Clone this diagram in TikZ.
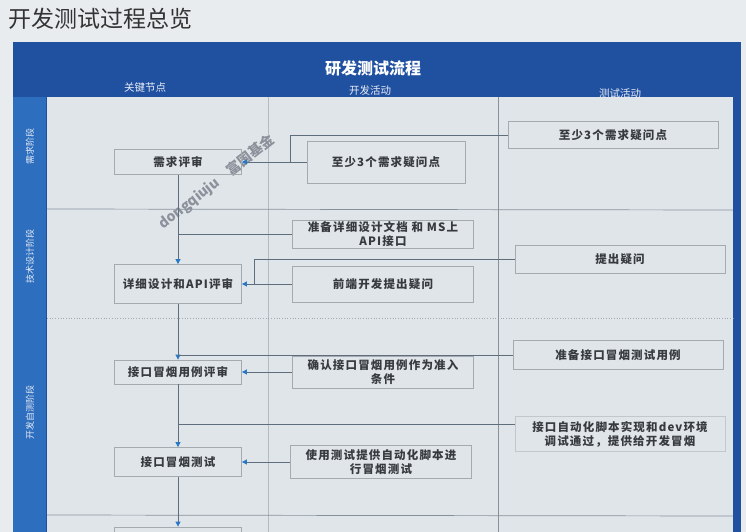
\documentclass[tikz,border=0pt]{standalone}
\usepackage{fontspec}
\setmainfont{Noto Sans CJK SC}
\newfontfamily\boxfont[LetterSpace=10]{Noto Sans CJK SC}
\usetikzlibrary{arrows.meta}
\definecolor{pagebg}{RGB}{233,236,239}
\definecolor{innerbg}{RGB}{224,229,234}
\definecolor{hdrblue}{RGB}{32,80,160}
\definecolor{bandblue}{RGB}{46,110,190}
\definecolor{boxgray}{RGB}{165,170,177}
\definecolor{linecol}{RGB}{95,110,125}
\definecolor{arrblue}{RGB}{40,120,200}
\definecolor{divgray}{RGB}{135,145,155}
\definecolor{txt}{RGB}{55,58,62}
\definecolor{wmgray}{RGB}{140,146,155}
\tikzset{
  keybox/.style={draw=boxgray, line width=0.8pt, align=center, inner sep=0pt,
    font=\boxfont\bfseries\fontsize{11.5}{14}\selectfont, text=txt, minimum width=127pt},
  devbox/.style={keybox, minimum width=181pt},
  testbox/.style={keybox, minimum width=210pt},
  conn/.style={draw=linecol, line width=0.8pt},
  arr/.style={conn, -{Triangle[length=5pt,width=5pt,color=arrblue]}},
  stagelbl/.style={text=white!85!bandblue, rotate=90, font=\fontsize{9}{10}\selectfont},
  colhdr/.style={text=white!90!hdrblue, font=\fontsize{10.5}{12}\selectfont},
  divider/.style={draw=divgray, line width=0.7pt}
}
\begin{document}
\begin{tikzpicture}[x=1pt,y=-1pt]
\useasboundingbox (0,0) rectangle (746,532);
\fill[pagebg] (0,0) rectangle (746,532);
% page title
\node[anchor=west, text=black!80, font=\fontsize{23}{26}\selectfont] (title) at (5,19) {开发测试过程总览};
% frame
\fill[hdrblue] (13,42) rectangle (741,540);
\fill[bandblue] (13,97) rectangle (46,540);
\fill[innerbg] (47,97) rectangle (733,540);
\node[text=white, font=\bfseries\fontsize{16}{18}\selectfont] (ftitle) at (373,68) {研发测试流程};
\node[colhdr] (h1) at (145,88) {关键节点};
\node[colhdr] (h2) at (370,91) {开发活动};
\node[colhdr] (h3) at (620,94) {测试活动};
% stage labels
\node[stagelbl] (s1) at (30,146) {需求阶段};
\node[stagelbl] (s2) at (30,256) {技术设计阶段};
\node[stagelbl] (s3) at (30,412) {开发自测阶段};
% grid
\draw[divider, draw opacity=0.5] (268,97) -- (268,540);
\draw[divider] (498,97) -- (498,540);
\draw[divider] (47,209) -- (733,210);
\draw[divider, dotted, draw opacity=0.7] (47,318) -- (733,318);
\draw[divider] (47,515) -- (733,516);
% watermark
\node[text=wmgray, rotate=38, font=\bfseries\fontsize{14}{15}\selectfont] (wm) at (217,182) {dongqiuju\quad 富国基金};
% key nodes
\node[keybox, minimum height=25pt] (n1) at (178,162) {需求评审};
\node[keybox, minimum height=39pt] (n2) at (178,284) {详细设计和API评审};
\node[keybox, minimum height=24pt] (n3) at (178,372) {接口冒烟用例评审};
\node[keybox, minimum height=29pt] (n4) at (178,462) {接口冒烟测试};
\node[keybox, minimum height=26pt] (n5) at (178,540) {};
% dev activity
\node[devbox, minimum width=158pt, minimum height=42pt] (d1) at (386,162) {至少3个需求疑问点};
\node[devbox, minimum height=28pt] (d2) at (383,234) {准备详细设计文档 和 MS上\\API接口};
\node[devbox, minimum height=36pt] (d3) at (383,284) {前端开发提出疑问};
\node[devbox, minimum height=32pt] (d4) at (383,372) {确认接口冒烟用例作为准入\\条件};
\node[devbox, minimum height=33pt] (d5) at (381,462) {使用测试提供自动化脚本进\\行冒烟测试};
% test activity
\node[testbox, minimum height=27pt] (t1) at (613,135) {至少3个需求疑问点};
\node[testbox, minimum height=28pt] (t2) at (620,259) {提出疑问};
\node[testbox, minimum height=29pt] (t3) at (618,355) {准备接口冒烟测试用例};
\node[testbox, draw opacity=0.5, minimum height=35pt] (t4) at (620,434) {接口自动化脚本实现和dev环境\\调试通过，提供给开发冒烟};
% junctions
\coordinate (j1) at (290,162);
\coordinate (j2) at (254,284);
% connectors
\draw[conn] (t1.west) -| (j1);
\draw[conn] (d1.west) -- (j1);
\draw[arr] (j1) -- (n1.east);
\draw[arr] (n1.south) -- (n2.north);
\draw[conn] (d2.west) -- (n1.south |- d2.west);
\draw[conn] (t2.west) -| (j2);
\draw[conn] (d3.west) -- (j2);
\draw[arr] (j2) -- (n2.east);
\draw[arr] (n2.south) -- (n3.north);
\draw[conn] (t3.west) -- (n2.south |- t3.west);
\draw[arr] (d4.west) -- (n3.east);
\draw[arr] (n3.south) -- (n4.north);
\draw[conn] (t4.175) -- (n3.south |- t4.175);
\draw[arr] (d5.west) -- (n4.east);
\draw[arr] (n4.south) -- (n5.north);
\end{tikzpicture}
\end{document}
